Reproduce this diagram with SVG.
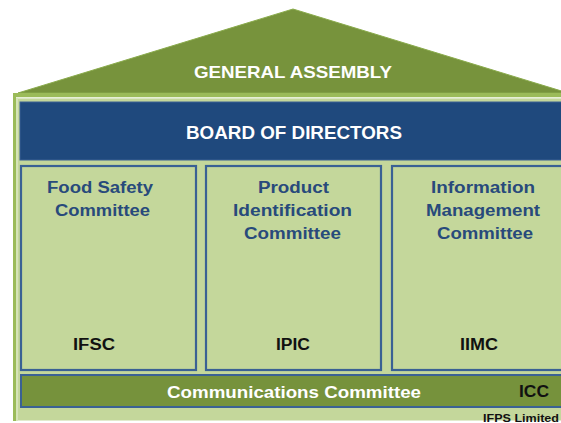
<svg xmlns="http://www.w3.org/2000/svg" width="561" height="423" viewBox="0 0 561 423">
<style>
.t{font-family:"Liberation Sans",Arial,sans-serif;font-weight:bold}
.w{fill:#ffffff}
.b{fill:#284a7b;font-size:16px}
.k{fill:#111111;font-size:16px}
.box{fill:#c4d79b;stroke:#3a6194;stroke-width:2.2}
</style>
<rect x="0" y="0" width="561" height="423" fill="#ffffff"/>
<g id="general-assembly">
<polygon points="293,9 568,93 18,93" fill="#77933c" stroke="#8aab4c" stroke-width="1"/>
<text class="t w" x="194" y="78" font-size="17" textLength="198" lengthAdjust="spacingAndGlyphs">GENERAL ASSEMBLY</text>
</g>
<g id="house-body">
<rect x="13" y="93" width="560" height="5" fill="#9bbb59"/>
<rect x="13" y="97" width="560" height="1.5" fill="#e6efd6"/>
<rect x="13" y="98.5" width="560" height="322" fill="#c4d79b"/>
<rect x="13" y="93" width="3" height="328" fill="#9bbb59"/>
<rect x="16" y="98" width="2" height="323" fill="#d6e4b8"/>
</g>
<g id="board-of-directors">
<rect x="20" y="102" width="560" height="58" fill="#1f497d" stroke="#3a6194" stroke-width="1"/>
<text class="t w" x="186" y="139" font-size="18" textLength="216" lengthAdjust="spacingAndGlyphs">BOARD OF DIRECTORS</text>
</g>
<g id="ifsc">
<rect class="box" x="21" y="166" width="175" height="204"/>
<text class="t b" x="47" y="193" textLength="106" lengthAdjust="spacingAndGlyphs">Food Safety</text>
<text class="t b" x="55" y="216" textLength="95" lengthAdjust="spacingAndGlyphs">Committee</text>
<text class="t k" x="73" y="350" textLength="42" lengthAdjust="spacingAndGlyphs">IFSC</text>
</g>
<g id="ipic">
<rect class="box" x="206" y="166" width="175" height="204"/>
<text class="t b" x="258" y="193" textLength="71" lengthAdjust="spacingAndGlyphs">Product</text>
<text class="t b" x="233" y="216" textLength="119" lengthAdjust="spacingAndGlyphs">Identification</text>
<text class="t b" x="244" y="239" textLength="97" lengthAdjust="spacingAndGlyphs">Committee</text>
<text class="t k" x="276" y="350" textLength="34" lengthAdjust="spacingAndGlyphs">IPIC</text>
</g>
<g id="iimc">
<rect class="box" x="392" y="166" width="175" height="204"/>
<text class="t b" x="431" y="193" textLength="104" lengthAdjust="spacingAndGlyphs">Information</text>
<text class="t b" x="426" y="216" textLength="114" lengthAdjust="spacingAndGlyphs">Management</text>
<text class="t b" x="437" y="239" textLength="96" lengthAdjust="spacingAndGlyphs">Committee</text>
<text class="t k" x="460" y="350" textLength="38" lengthAdjust="spacingAndGlyphs">IIMC</text>
</g>
<g id="icc">
<rect x="21" y="375" width="546" height="32" fill="#76923c" stroke="#3a6194" stroke-width="2"/>
<text class="t w" x="167" y="398" font-size="17" textLength="254" lengthAdjust="spacingAndGlyphs">Communications Committee</text>
<text class="t k" x="519" y="397" font-size="17" textLength="30" lengthAdjust="spacingAndGlyphs">ICC</text>
</g>
<g id="footer">
<text class="t" x="483" y="422" font-size="11" fill="#111111" textLength="76" lengthAdjust="spacingAndGlyphs">IFPS Limited</text>
</g>
<g id="connectors"></g>
</svg>
